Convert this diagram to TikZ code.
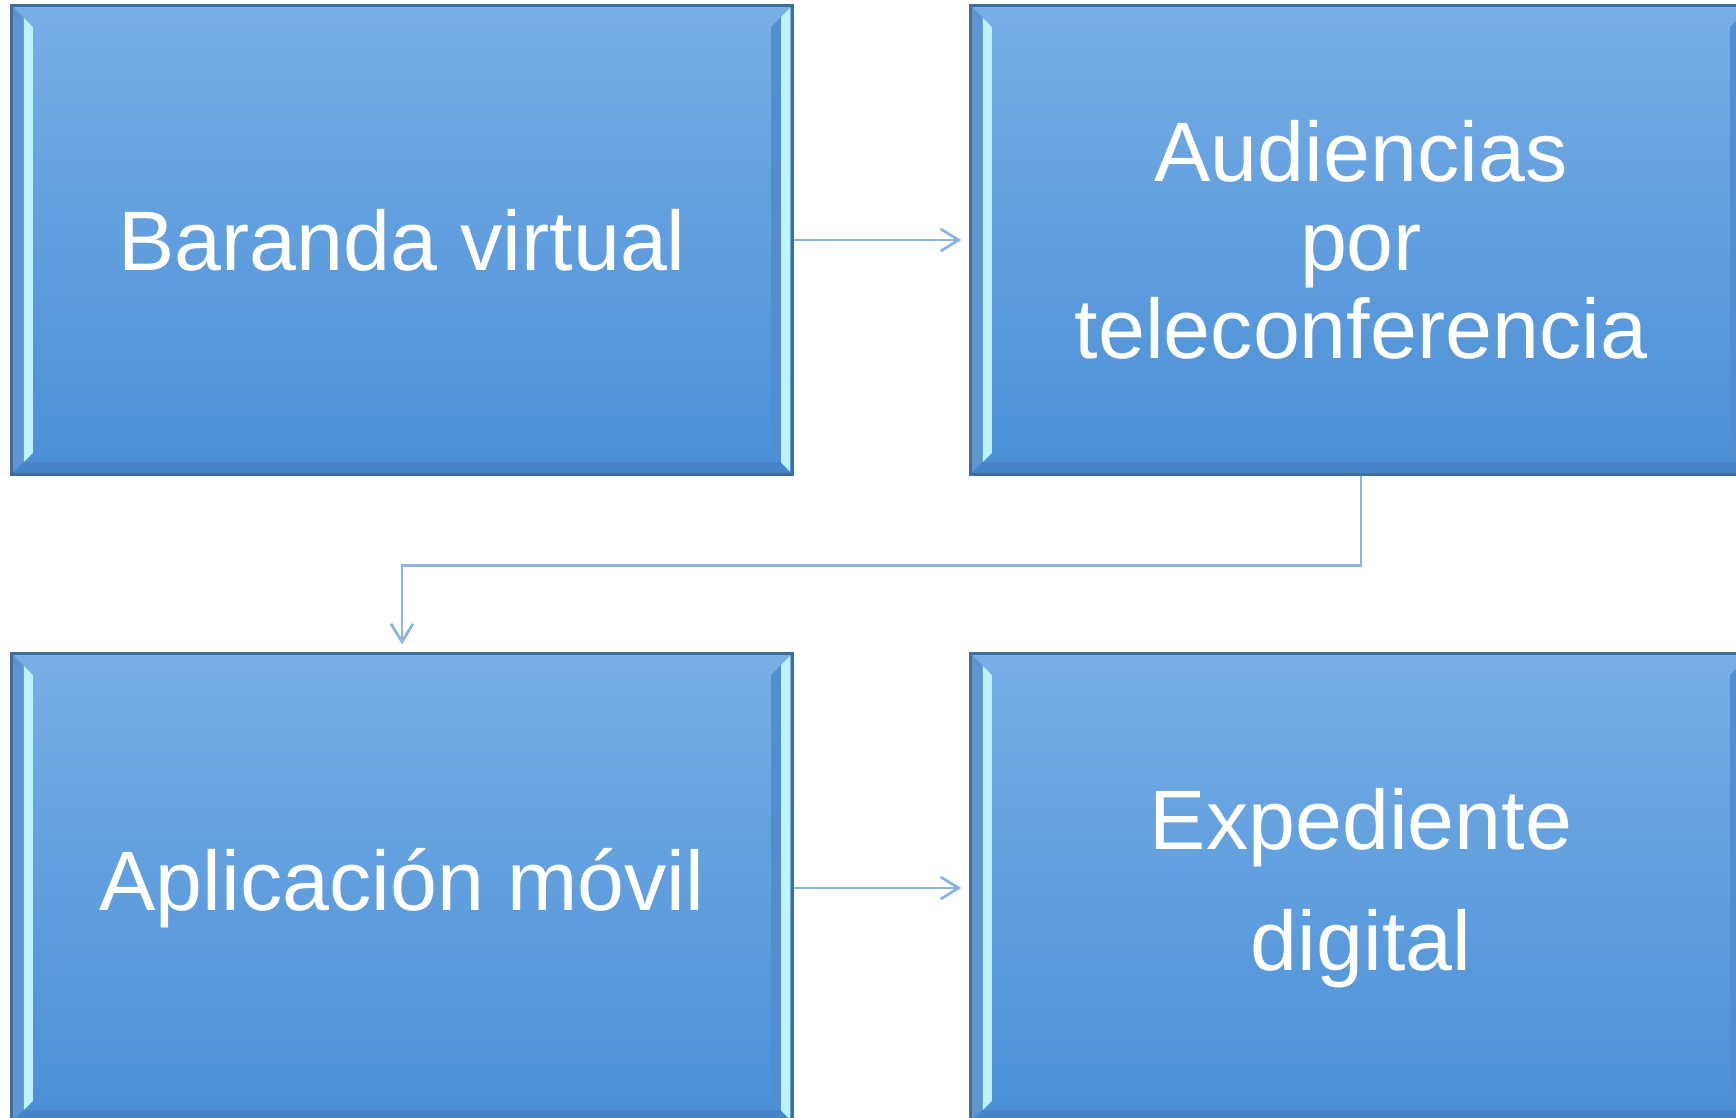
\documentclass[tikz,border=0pt]{standalone}
\usepackage{fontspec}
\setmainfont{Liberation Sans}
\usetikzlibrary{positioning,arrows.meta}
\definecolor{boxtop}{HTML}{77AEE6}
\definecolor{boxbot}{HTML}{4A8FD6}
\definecolor{boxedge}{HTML}{3F6E9E}
\definecolor{bevlight}{HTML}{BDF3FF}
\definecolor{bevdark}{HTML}{5E94CF}
\definecolor{bevlow}{HTML}{4683C8}
\definecolor{linkblue}{HTML}{8DB4E2}

\begin{document}
\begin{tikzpicture}[x=0.01cm, y=-0.01cm,
    tile/.style={rectangle, draw=boxedge, line width=0.8pt,
        top color=boxtop, bottom color=boxbot,
        minimum width=7.8cm, minimum height=4.68cm, inner sep=0pt,
        text=white, align=center, font=\fontsize{24}{25.2}\selectfont,
        path picture={
            % left bevel: dark band, then light strip
            \fill[bevdark]
                (path picture bounding box.south west) -- (path picture bounding box.north west)
                -- ++(0.12cm,-0.12cm) -- ([shift={(0.12cm,0.12cm)}]path picture bounding box.south west) -- cycle;
            \fill[bevlight]
                ([shift={(0.12cm,0.12cm)}]path picture bounding box.south west)
                -- ([shift={(0.12cm,-0.12cm)}]path picture bounding box.north west)
                -- ++(0.09cm,-0.09cm) -- ([shift={(0.21cm,0.21cm)}]path picture bounding box.south west) -- cycle;
            % right bevel: dark band, then light strip at the edge
            \fill[bevlow!90!bevlight]
                ([shift={(-0.21cm,0.21cm)}]path picture bounding box.south east)
                -- ([shift={(-0.21cm,-0.21cm)}]path picture bounding box.north east)
                -- ++(0.1cm,0.1cm) -- ([shift={(-0.11cm,0.11cm)}]path picture bounding box.south east) -- cycle;
            \fill[bevlight]
                ([shift={(-0.11cm,0.11cm)}]path picture bounding box.south east)
                -- ([shift={(-0.11cm,-0.11cm)}]path picture bounding box.north east)
                -- ++(0.09cm,0.09cm) -- ([shift={(-0.02cm,0.02cm)}]path picture bounding box.south east) -- cycle;
            % bottom bevel
            \fill[bevlow]
                (path picture bounding box.south west) -- (path picture bounding box.south east)
                -- ++(-0.12cm,0.12cm) -- ([shift={(0.12cm,0.12cm)}]path picture bounding box.south west) -- cycle;
        }},
    link/.style={draw=linkblue, line width=0.8pt, shorten >=0.08cm,
        -{Straight Barb[length=1.8mm,width=2.2mm]}}]

    % Canvas
    \clip (0,0) rectangle (1736,1117);
    \fill[white] (0,0) rectangle (1736,1117);

    % Boxes
    \node[tile] (baranda) at (402,240) {Baranda virtual};
    \node[tile] (audiencias) at (1361,240) {Audiencias\\por\\teleconferencia};
    \node[tile] (aplicacion) at (402,888) {Aplicación móvil};
    \node[tile, font=\fontsize{24}{34.6}\selectfont] (expediente) at (1361,888) {Expediente\\digital};

    % Links
    \draw[link] (baranda.east) -- (audiencias.west);
    \draw[link] (audiencias.south) -- ++(0,90) -| (aplicacion.north);
    \draw[link] (aplicacion.east) -- (expediente.west);
\end{tikzpicture}
\end{document}
